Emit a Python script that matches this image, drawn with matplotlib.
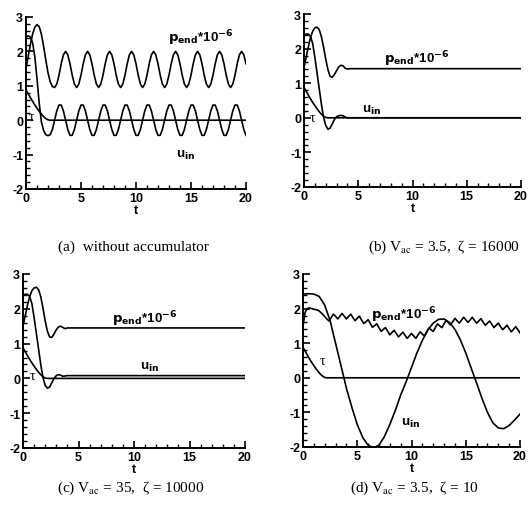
import numpy as np
import matplotlib
matplotlib.use("Agg")
import matplotlib.pyplot as plt
from matplotlib.ticker import MultipleLocator

plt.rcParams['axes.unicode_minus'] = False

# ---------------- data ----------------
# common time grid (step 0.2) for panel (a) and panel (d) pressure
T_FINE = np.round(np.arange(0, 20.0001, 0.2), 1)

# tau (same in all panels)
T_TAU = [0, 0.25, 0.5, 0.75, 1.0, 1.25, 1.5, 1.75, 2.0, 2.2, 20]
TAU = [0.88, 0.74, 0.60, 0.47, 0.35, 0.24, 0.14, 0.06, 0.01, 0.0, 0.0]

# (a) without accumulator
P_A = [1.50, 1.85, 2.20, 2.50, 2.70, 2.78, 2.72, 2.50, 2.15, 1.75,
       1.38, 1.12, 0.98, 0.95,
       1.05, 1.31, 1.64, 1.90, 2.00, 1.90, 1.64, 1.31, 1.05, 0.95,
       1.05, 1.31, 1.64, 1.90, 2.00, 1.90, 1.64, 1.31, 1.05, 0.95,
       1.05, 1.31, 1.64, 1.90, 2.00, 1.90, 1.64, 1.31, 1.05, 0.95,
       1.05, 1.31, 1.64, 1.90, 2.00, 1.90, 1.64, 1.31, 1.05, 0.95,
       1.05, 1.31, 1.64, 1.90, 2.00, 1.90, 1.64, 1.31, 1.05, 0.95,
       1.05, 1.31, 1.64, 1.90, 2.00, 1.90, 1.64, 1.31, 1.05, 0.95,
       1.05, 1.31, 1.64, 1.90, 2.00, 1.90, 1.64, 1.31, 1.05, 0.95,
       1.05, 1.31, 1.64, 1.90, 2.00, 1.90, 1.64, 1.31, 1.05, 0.95,
       1.05, 1.31, 1.64, 1.90, 2.00, 1.90, 1.64]
U_A = [2.42, 2.45, 2.42, 2.25, 1.85, 1.20, 0.50, -0.05, -0.30, -0.42,
       -0.45, -0.42, -0.27, 0.00, 0.27,
       0.44, 0.44, 0.27, 0.00, -0.27, -0.44, -0.44, -0.27, 0.00, 0.27,
       0.44, 0.44, 0.27, 0.00, -0.27, -0.44, -0.44, -0.27, 0.00, 0.27,
       0.44, 0.44, 0.27, 0.00, -0.27, -0.44, -0.44, -0.27, 0.00, 0.27,
       0.44, 0.44, 0.27, 0.00, -0.27, -0.44, -0.44, -0.27, 0.00, 0.27,
       0.44, 0.44, 0.27, 0.00, -0.27, -0.44, -0.44, -0.27, 0.00, 0.27,
       0.44, 0.44, 0.27, 0.00, -0.27, -0.44, -0.44, -0.27, 0.00, 0.27,
       0.44, 0.44, 0.27, 0.00, -0.27, -0.44, -0.44, -0.27, 0.00, 0.27,
       0.44, 0.44, 0.27, 0.00, -0.27, -0.44, -0.44, -0.27, 0.00, 0.27,
       0.44, 0.44, 0.27, 0.00, -0.27, -0.44]

# (b) V_ac = 3.5, zeta = 16000
T_B = [0, 0.2, 0.4, 0.6, 0.8, 1.0, 1.2, 1.4, 1.6, 1.8, 2.0, 2.2, 2.4,
       2.6, 2.8, 3.0, 3.2, 3.4, 3.6, 3.8, 4.0, 4.2, 20]
P_B = [1.45, 1.75, 2.05, 2.32, 2.50, 2.60, 2.62, 2.55, 2.35, 2.05, 1.70,
       1.40, 1.20, 1.17, 1.25, 1.36, 1.47, 1.52, 1.50, 1.43, 1.41, 1.42, 1.42]
U_B = [2.40, 2.42, 2.42, 2.35, 2.15, 1.75, 1.30, 0.85, 0.40, 0.02, -0.22,
       -0.33, -0.30, -0.18, -0.05, 0.03, 0.06, 0.07, 0.06, 0.02, 0.0, 0.0, 0.0]

# (c) V_ac = 35, zeta = 10000
T_C = [0, 0.2, 0.4, 0.6, 0.8, 1.0, 1.2, 1.4, 1.6, 1.8, 2.0, 2.2, 2.4,
       2.6, 2.8, 3.0, 3.2, 3.4, 3.6, 3.8, 4.0, 20]
P_C = [1.50, 1.80, 2.10, 2.35, 2.52, 2.60, 2.62, 2.55, 2.35, 2.02, 1.65,
       1.35, 1.19, 1.18, 1.28, 1.40, 1.48, 1.50, 1.46, 1.43, 1.45, 1.45]
U_C = [2.40, 2.42, 2.42, 2.35, 2.15, 1.75, 1.30, 0.85, 0.40, 0.02, -0.20,
       -0.28, -0.25, -0.12, 0.00, 0.08, 0.11, 0.09, 0.06, 0.07, 0.08, 0.08]

# (d) V_ac = 3.5, zeta = 10
P_D = [1.50, 1.90, 2.00, 2.02, 2.00, 1.98, 1.97, 1.95, 1.90, 1.84, 1.77,
       1.70, 1.64, 1.74, 1.84, 1.78, 1.70, 1.78, 1.86, 1.78, 1.70, 1.77,
       1.84, 1.74, 1.65, 1.72, 1.78, 1.67, 1.57, 1.62, 1.68, 1.57, 1.46,
       1.51, 1.56, 1.45, 1.34, 1.40, 1.45, 1.35, 1.24, 1.31, 1.37, 1.28,
       1.18, 1.25, 1.32, 1.23, 1.14, 1.21, 1.28, 1.21, 1.14, 1.24, 1.33,
       1.26, 1.21, 1.32, 1.44, 1.39, 1.34, 1.45, 1.56, 1.50, 1.45, 1.56,
       1.66, 1.59, 1.53, 1.62, 1.72, 1.65, 1.58, 1.66, 1.75, 1.68, 1.60,
       1.67, 1.75, 1.66, 1.58, 1.64, 1.71, 1.61, 1.52, 1.58, 1.64, 1.55,
       1.45, 1.52, 1.58, 1.48, 1.39, 1.45, 1.52, 1.42, 1.33, 1.40, 1.48,
       1.39, 1.30]
T_UD = [0, 0.5, 1.0, 1.5, 2.0, 2.5, 3.0, 3.5, 4.0, 4.5, 5.0, 5.5, 6.0,
        6.5, 7.0, 7.5, 8.0, 8.5, 9.0, 9.5, 10.0, 10.5, 11.0, 11.5, 12.0,
        12.5, 13.0, 13.5, 14.0, 14.5, 15.0, 15.5, 16.0, 16.5, 17.0, 17.5,
        18.0, 18.5, 19.0, 19.5, 20.0]
U_D = [2.42, 2.43, 2.42, 2.35, 2.10, 1.65, 1.00, 0.35, -0.30, -0.85,
       -1.35, -1.72, -1.95, -2.02, -1.95, -1.70, -1.35, -0.95, -0.50, -0.12,
       0.30, 0.72, 1.08, 1.38, 1.58, 1.69, 1.70, 1.60, 1.40, 1.10, 0.72,
       0.28, -0.15, -0.60, -1.00, -1.30, -1.45, -1.47, -1.38, -1.22, -1.05]

X_TICKS = [0, 5, 10, 15, 20]
Y_TICKS = [-2, -1, 0, 1, 2, 3]
CAPTIONS = ["(a)  without accumulator",
            r"(b) V$_{\mathrm{ac}}$ = 3.5,  ζ = 16000",
            r"(c) V$_{\mathrm{ac}}$ = 35,  ζ = 10000",
            r"(d) V$_{\mathrm{ac}}$ = 3.5,  ζ = 10"]

# ---------------- figure ----------------
W, H = 530, 506
fig = plt.figure(figsize=(W / 100, H / 100), dpi=100)
fig.patch.set_facecolor('white')

SANS = ['Liberation Sans', 'DejaVu Sans']
SERIF = ['Liberation Serif', 'DejaVu Serif']
LW = 1.2


def px_axes(x0, y0, x1, y1):
    return fig.add_axes([x0 / W, 1 - y1 / H, (x1 - x0) / W, (y1 - y0) / H])


def style(ax):
    ax.set_xlim(0, 20)
    ax.set_ylim(-2, 3)
    for s in ('top', 'right'):
        ax.spines[s].set_visible(False)
    for s in ('left', 'bottom'):
        ax.spines[s].set_linewidth(1.4)
    ax.set_xticks(X_TICKS)
    ax.set_yticks(Y_TICKS)
    ax.xaxis.set_minor_locator(MultipleLocator(1))
    ax.yaxis.set_minor_locator(MultipleLocator(0.2))
    ax.tick_params(which='major', direction='in', length=5, width=1.2,
                   labelsize=9, pad=2)
    ax.tick_params(which='minor', direction='in', length=3, width=1.0)
    for lab in ax.get_xticklabels() + ax.get_yticklabels():
        lab.set_fontfamily(SANS)
        lab.set_fontweight('bold')
    ax.set_xlabel('t', fontsize=9, fontweight='bold', family=SANS, labelpad=0)


def plabel(ax, x, y):
    ax.text(x, y, r'$\mathbf{p}_{\mathbf{end}}$*10$^{\mathbf{-6}}$',
            fontsize=9.5, fontweight='bold', family=SANS,
            math_fontfamily='dejavusans', va='center', ha='left')


def ulabel(ax, x, y):
    ax.text(x, y, r'u$_{\mathbf{in}}$', fontsize=9.5, fontweight='bold',
            family=SANS, math_fontfamily='dejavusans', va='center', ha='left')


def taulabel(ax, x, y):
    ax.text(x, y, 'τ', fontsize=10, family=SERIF, va='center', ha='left')


# (a)
ax = px_axes(26, 18, 246, 190)
style(ax)
ax.plot(T_FINE, P_A, color='black', lw=LW)
ax.plot(T_FINE, U_A, color='black', lw=LW)
ax.plot(T_TAU, TAU, color='black', lw=LW)
plabel(ax, 12.9, 2.4)
ulabel(ax, 13.6, -1.0)
taulabel(ax, 0.25, 0.1)

# (b)
ax = px_axes(304, 15, 521, 188)
style(ax)
ax.plot(T_B, P_B, color='black', lw=LW)
ax.plot(T_B, U_B, color='black', lw=LW)
ax.plot(T_TAU, TAU, color='black', lw=LW)
plabel(ax, 7.4, 1.72)
ulabel(ax, 5.3, 0.25)
taulabel(ax, 0.5, 0.0)

# (c)
ax = px_axes(23, 275, 245, 449)
style(ax)
ax.plot(T_C, P_C, color='black', lw=LW)
ax.plot(T_C, U_C, color='black', lw=LW)
ax.plot(T_TAU, TAU, color='black', lw=LW)
plabel(ax, 8.0, 1.72)
ulabel(ax, 10.5, 0.33)
taulabel(ax, 0.6, 0.07)

# (d)
ax = px_axes(303, 275, 520, 448)
style(ax)
ax.plot(T_FINE, P_D, color='black', lw=LW)
ax.plot(T_UD, U_D, color='black', lw=LW)
ax.plot(T_TAU, TAU, color='black', lw=LW)
plabel(ax, 6.3, 1.85)
ulabel(ax, 9.0, -1.28)
taulabel(ax, 1.5, 0.5)

# captions
cap_pos = [(133, 247), (444, 247), (131, 488), (415, 488)]
for (cx, cy), txt in zip(cap_pos, CAPTIONS):
    fig.text(cx / W, 1 - cy / H, txt, ha='center', va='center',
             fontsize=11, family=SERIF, math_fontfamily='stix')

fig.savefig('out.png', dpi=100, facecolor='white')
